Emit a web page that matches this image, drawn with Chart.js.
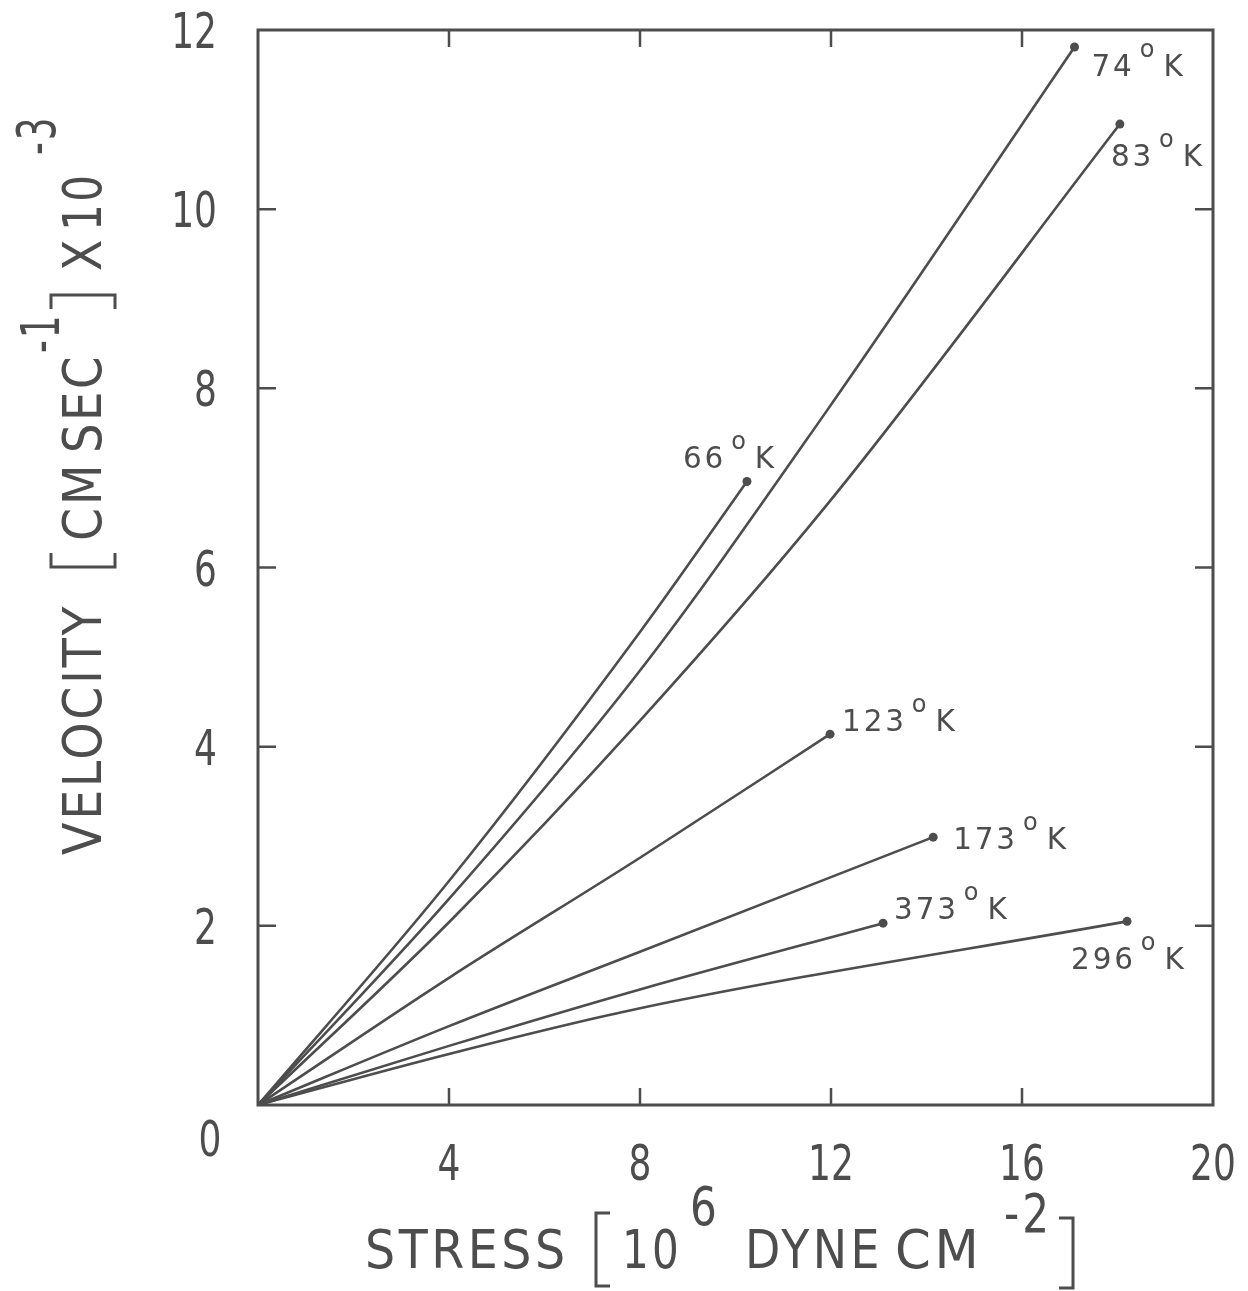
<!DOCTYPE html>
<html>
<head>
<meta charset="utf-8">
<title>Velocity vs stress</title>
<script src="https://cdn.jsdelivr.net/npm/chart.js@4.4.1/dist/chart.umd.min.js"></script>
<style>
  html, body { margin: 0; padding: 0; background: #fff; }
  #wrap { width: 1248px; height: 1291px; }
</style>
</head>
<body>
<div id="wrap"><canvas id="velChart" width="1248" height="1291"></canvas></div>
<script>
// stress in 10^6 dyne cm^-2, velocity in 10^-3 cm/s, one curve per temperature (K)
var temps = ['66', '74', '83', '123', '173', '373', '296'];

var stress66 = [0, 4, 8, 10.24];
var vel66 = [0, 2.50, 5.28, 6.96];

var stress74 = [0, 4, 8, 11.9, 17.1];
var vel74 = [0, 2.30, 4.85, 7.74, 11.81];

var stress83 = [0, 4, 8, 11.9, 18.05];
var vel83 = [0, 2.04, 4.29, 6.69, 10.95];

var stress123 = [0, 4, 8, 11.98];
var vel123 = [0, 1.42, 2.76, 4.14];

var stress173 = [0, 4, 8, 14.14];
var vel173 = [0, 0.88, 1.71, 2.99];

var stress373 = [0, 4, 8, 13.09];
var vel373 = [0, 0.66, 1.29, 2.03];

var stress296 = [0, 4, 8, 18.2];
var vel296 = [0, 0.57, 1.08, 2.05];

var xTicks = [4, 8, 12, 16, 20];
var yTicks = [2, 4, 6, 8, 10, 12];

var series = {
  '66': [stress66, vel66], '74': [stress74, vel74], '83': [stress83, vel83],
  '123': [stress123, vel123], '173': [stress173, vel173],
  '373': [stress373, vel373], '296': [stress296, vel296]
};

// where each temperature tag sits relative to its end dot (px)
var tagOffset = {
  '66': [-64, -14], '74': [17, 29], '83': [-9, 42], '123': [12, -3],
  '173': [20, 12], '373': [11, -4], '296': [-56, 48]
};

var ink = '#4d4d4d';
var face = '"DejaVu Sans"';

function toPoints(xs, ys) {
  var pts = [];
  for (var i = 0; i < xs.length; i++) pts.push({ x: xs[i], y: ys[i] });
  return pts;
}

var datasets = temps.map(function (t) {
  var s = series[t];
  return {
    label: t + ' K',
    data: toPoints(s[0], s[1]),
    showLine: true,
    borderColor: ink,
    backgroundColor: ink,
    borderWidth: 2.6,
    cubicInterpolationMode: 'monotone',
    pointRadius: function (c) { return c.dataIndex === s[0].length - 1 ? 4.5 : 0; },
    pointHoverRadius: 0,
    pointBorderWidth: 0
  };
});

// draws text squeezed horizontally by sx, returns drawn width
function txt(ctx, s, x, y, size, align, sx) {
  ctx.save();
  ctx.font = size + 'px ' + face;
  var w = ctx.measureText(s).width * sx;
  var x0 = align === 'center' ? x - w / 2 : (align === 'right' ? x - w : x);
  ctx.translate(x0, y);
  ctx.scale(sx, 1);
  ctx.textAlign = 'left';
  ctx.textBaseline = 'alphabetic';
  ctx.fillText(s, 0, 0);
  ctx.restore();
  return w;
}

function bracket(ctx, x, top, bottom, dir) {
  ctx.beginPath();
  ctx.moveTo(x + dir * 14, top);
  ctx.lineTo(x, top);
  ctx.lineTo(x, bottom);
  ctx.lineTo(x + dir * 14, bottom);
  ctx.stroke();
}

var framePlugin = {
  id: 'frame',
  afterDraw: function (chart) {
    var ctx = chart.ctx, a = chart.chartArea;
    var xs = chart.scales.x, ys = chart.scales.y;
    ctx.save();
    ctx.strokeStyle = ink;
    ctx.fillStyle = ink;
    ctx.lineWidth = 3;
    ctx.strokeRect(a.left, a.top, a.right - a.left, a.bottom - a.top);

    // inward ticks on all four sides
    ctx.lineWidth = 2.5;
    xTicks.forEach(function (v) {
      if (v >= 20) return;
      var px = xs.getPixelForValue(v);
      ctx.beginPath();
      ctx.moveTo(px, a.bottom); ctx.lineTo(px, a.bottom - 17);
      ctx.moveTo(px, a.top); ctx.lineTo(px, a.top + 17);
      ctx.stroke();
    });
    yTicks.forEach(function (v) {
      if (v >= 12) return;
      var py = ys.getPixelForValue(v);
      ctx.beginPath();
      ctx.moveTo(a.left, py); ctx.lineTo(a.left + 18, py);
      ctx.moveTo(a.right, py); ctx.lineTo(a.right - 18, py);
      ctx.stroke();
    });

    // tick numbers
    xTicks.forEach(function (v) {
      txt(ctx, String(v), xs.getPixelForValue(v), a.bottom + 75, 50, 'center', 0.72);
    });
    yTicks.forEach(function (v) {
      txt(ctx, String(v), a.left - 41, ys.getPixelForValue(v) + 18, 50, 'right', 0.72);
    });
    txt(ctx, '0', a.left - 48, a.bottom + 51, 50, 'center', 0.72);

    // temperature tags at the end of each curve
    chart.data.datasets.forEach(function (ds, i) {
      var t = temps[i];
      var el = chart.getDatasetMeta(i).data[ds.data.length - 1];
      var x = el.x + tagOffset[t][0], y = el.y + tagOffset[t][1];
      ctx.save();
      ctx.letterSpacing = '3px';
      x += txt(ctx, t, x, y, 31, 'left', 0.95) + 5;
      x += txt(ctx, 'o', x, y - 19, 24, 'left', 1) + 6;
      txt(ctx, 'K', x, y, 31, 'left', 0.95);
      ctx.restore();
    });

    // x title
    ctx.lineWidth = 3;
    var b = 1268;
    ctx.letterSpacing = '4px';
    txt(ctx, 'STRESS', 365, b, 54, 'left', 0.88);
    bracket(ctx, 596, b - 55, b + 18, 1);
    txt(ctx, '10', 622, b, 54, 'left', 0.78);
    txt(ctx, '6', 690, b - 43, 54, 'left', 0.78);
    txt(ctx, 'DYNE', 745, b, 54, 'left', 0.85);
    txt(ctx, 'CM', 895, b, 54, 'left', 0.95);
    txt(ctx, '-2', 1004, b - 36, 54, 'left', 0.78);
    bracket(ctx, 1073, b - 50, b + 20, -1);

    // y title, rotated to read bottom to top
    ctx.save();
    ctx.translate(101, 855);
    ctx.rotate(-Math.PI / 2);
    ctx.letterSpacing = '3px';
    txt(ctx, 'VELOCITY', 0, 0, 54, 'left', 0.88);
    bracket(ctx, 288, -50, 14, 1);
    txt(ctx, 'CM', 314, 0, 54, 'left', 0.88);
    txt(ctx, 'SEC', 402, 0, 54, 'left', 0.86);
    txt(ctx, '-1', 502, -42, 54, 'left', 0.66);
    bracket(ctx, 560, -50, 14, -1);
    txt(ctx, 'X', 584, 0, 54, 'left', 0.85);
    txt(ctx, '10', 624, 0, 54, 'left', 0.78);
    txt(ctx, '-3', 700, -46, 54, 'left', 0.66);
    ctx.restore();

    ctx.restore();
  }
};

var chart = new Chart(document.getElementById('velChart').getContext('2d'), {
  type: 'scatter',
  data: { datasets: datasets },
  options: {
    responsive: false,
    animation: false,
    devicePixelRatio: 1,
    layout: { padding: { left: 258, right: 35, top: 30, bottom: 186 } },
    plugins: { legend: { display: false }, tooltip: { enabled: false } },
    scales: {
      x: { type: 'linear', min: 0, max: 20, display: false },
      y: { type: 'linear', min: 0, max: 12, display: false }
    }
  },
  plugins: [framePlugin]
});
</script>
</body>
</html>
